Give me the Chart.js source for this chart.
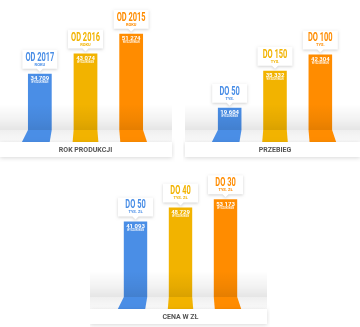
<!DOCTYPE html>
<html>
<head>
<meta charset="utf-8">
<script src="https://cdn.jsdelivr.net/npm/chart.js@4/dist/chart.umd.min.js"></script>
<style>
  html, body { margin: 0; padding: 0; background: #fff; width: 360px; height: 327px; overflow: hidden; }
  canvas { position: absolute; }
</style>
</head>
<body>
<canvas id="year" width="175" height="162" style="left:0;top:0"></canvas>
<canvas id="mileage" width="177" height="162" style="left:183px;top:0"></canvas>
<canvas id="price" width="180" height="167" style="left:90px;top:160px"></canvas>
<script>
// colours shared by the three panels
const colors = ['#4a8ee6', '#f2b300', '#ff8c00'];

// Rok produkcji
const yearLabels = ['OD 2017', 'OD 2016', 'OD 2015'];
const yearValues = [34709, 43074, 51274];
// Przebieg
const mileageLabels = ['DO 50', 'DO 150', 'DO 100'];
const mileageValues = [19604, 35332, 42304];
// Cena
const priceLabels = ['DO 50', 'DO 40', 'DO 30'];
const priceValues = [41093, 48729, 53173];

const fmt = v => String(v).replace(/\B(?=(\d{3})+(?!\d))/g, ' ');

// floor skew for the perspective "shadow" under each bar
const skew = [[-6, -2], [-1, 1], [1, 4]];

const panelPlugin = {
  id: 'panel',
  afterDatasetsDraw(chart, args, opts) {
    const ctx = chart.ctx;
    const base = chart.chartArea.bottom;
    const bars = chart.getDatasetMeta(0).data;
    const [bx, bw] = opts.box;

    ctx.save();
    // grey band behind the bottoms of the bars
    let g = ctx.createLinearGradient(0, base - 26, 0, base);
    g.addColorStop(0, 'rgba(0,0,0,0)');
    g.addColorStop(0.6, 'rgba(0,0,0,0.05)');
    g.addColorStop(1, 'rgba(0,0,0,0.1)');
    ctx.fillStyle = g;
    ctx.fillRect(bx, base - 26, bw, 26);

    // floor
    g = ctx.createLinearGradient(0, base, 0, base + 12);
    g.addColorStop(0, '#efefef');
    g.addColorStop(1, '#fafafa');
    ctx.fillStyle = g;
    ctx.fillRect(bx, base, bw, 12);

    bars.forEach((bar, i) => {
      const l = bar.x - bar.width / 2, r = bar.x + bar.width / 2;
      ctx.fillStyle = colors[i];
      ctx.beginPath();
      ctx.moveTo(l, base);
      ctx.lineTo(r, base);
      ctx.lineTo(r + skew[i][1], base + 12);
      ctx.lineTo(l + skew[i][0], base + 12);
      ctx.closePath();
      ctx.fill();
    });

    // title box
    ctx.save();
    ctx.shadowColor = 'rgba(0,0,0,0.15)';
    ctx.shadowBlur = 4;
    ctx.shadowOffsetY = 1;
    ctx.fillStyle = '#fff';
    ctx.fillRect(bx, base + 12, bw, 15);
    ctx.restore();
    ctx.fillStyle = '#555';
    ctx.font = 'bold 7px Roboto';
    ctx.textAlign = 'center';
    ctx.textBaseline = 'middle';
    ctx.fillText(opts.title, (bars[0].x + bars[2].x) / 2, base + 20);

    // callouts + values
    bars.forEach((bar, i) => {
      const cx = bar.x, w = 35, h = 19;
      const bottom = bar.y - 5, top = bottom - h;
      ctx.save();
      ctx.shadowColor = 'rgba(0,0,0,0.18)';
      ctx.shadowBlur = 3;
      ctx.shadowOffsetY = 1;
      ctx.fillStyle = '#fff';
      ctx.beginPath();
      ctx.moveTo(cx - w / 2, top);
      ctx.lineTo(cx + w / 2, top);
      ctx.lineTo(cx + w / 2, bottom);
      ctx.lineTo(cx + 3, bottom);
      ctx.lineTo(cx, bottom + 3);
      ctx.lineTo(cx - 3, bottom);
      ctx.lineTo(cx - w / 2, bottom);
      ctx.closePath();
      ctx.fill();
      ctx.restore();

      ctx.fillStyle = colors[i];
      ctx.textAlign = 'center';
      ctx.textBaseline = 'middle';
      ctx.save();
      ctx.translate(cx, top + 8);
      ctx.scale(0.62, 1);
      ctx.font = 'bold 12px Roboto';
      ctx.fillText(chart.data.labels[i], 0, 0);
      ctx.restore();
      ctx.font = 'bold 4px Roboto';
      ctx.fillText(opts.sub, cx, top + 15);

      ctx.fillStyle = '#fff';
      ctx.font = 'bold 6px Roboto';
      ctx.fillText(fmt(chart.data.datasets[0].data[i]), cx, bar.y + 5);
      ctx.fillStyle = 'rgba(255,255,255,0.85)';
      ctx.font = 'bold 2.6px Roboto';
      ctx.fillText('WYSZUKIWAŃ', cx, bar.y + 9);
    });
    ctx.restore();
  }
};

function makePanel(id, labels, values, min, max, padding, title, sub, box) {
  return new Chart(document.getElementById(id), {
    type: 'bar',
    data: {
      labels: labels,
      datasets: [{
        data: values,
        backgroundColor: colors,
        barPercentage: 0.52,
        categoryPercentage: 1,
        borderWidth: 0
      }]
    },
    options: {
      responsive: false,
      animation: false,
      layout: { padding: padding },
      plugins: {
        legend: { display: false },
        tooltip: { enabled: false },
        panel: { title: title, sub: sub, box: box }
      },
      scales: {
        x: { display: false },
        y: { display: false, min: min, max: max }
      }
    },
    plugins: [panelPlugin]
  });
}

makePanel('year', yearLabels, yearValues, 11400, 61100,
  { top: 10, bottom: 32, left: 17, right: 21 }, 'ROK PRODUKCJI', 'ROKU', [0, 172]);
makePanel('mileage', mileageLabels, mileageValues, 10070, 61300,
  { top: 10, bottom: 32, left: 24, right: 17 }, 'PRZEBIEG', 'TYS.', [2, 175]);
makePanel('price', priceLabels, priceValues, 0, 66400,
  { top: 15, bottom: 30, left: 23, right: 22 }, 'CENA W ZŁ', 'TYS. ZŁ', [0, 177]);
</script>
</body>
</html>
